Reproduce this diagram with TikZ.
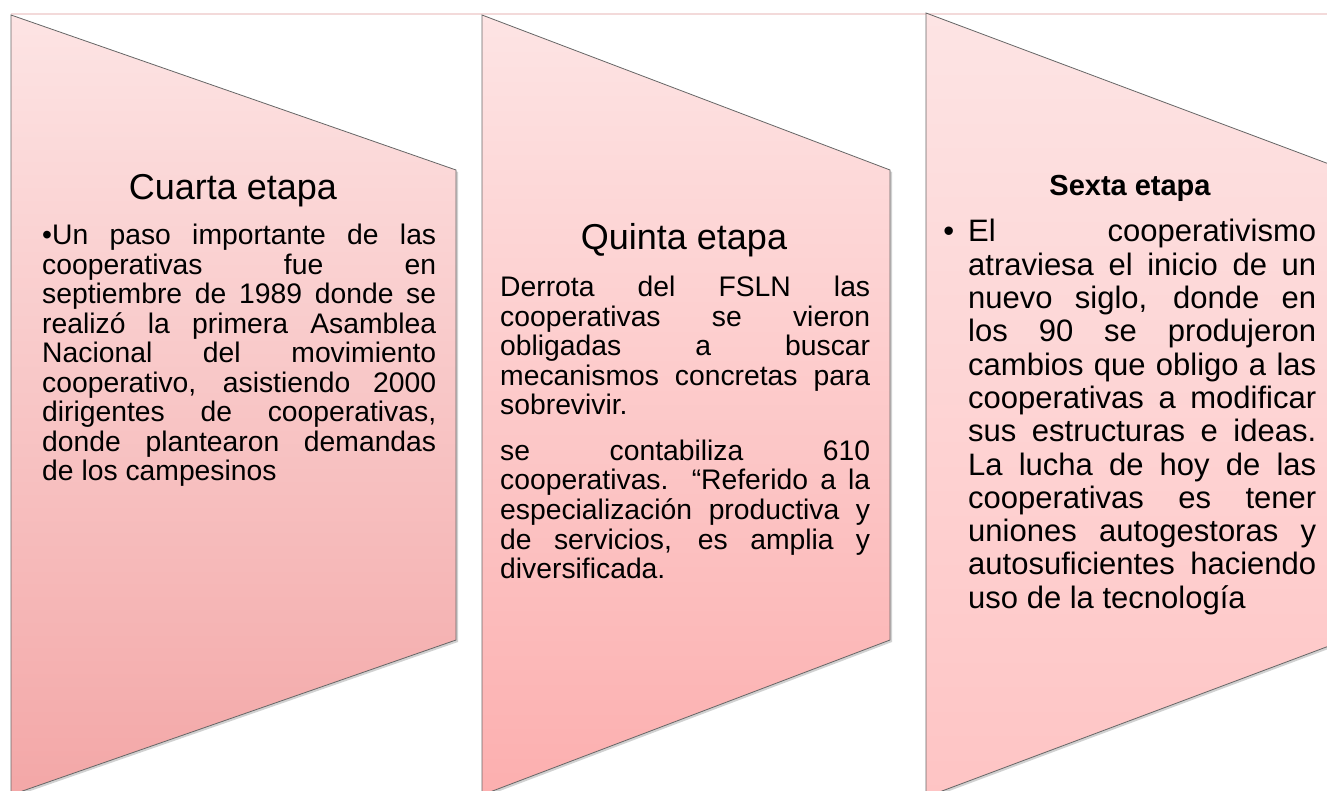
\documentclass[tikz,border=0pt]{standalone}
\usepackage{fontspec}
\newfontfamily\wf{Liberation Sans}
\definecolor{ptop}{HTML}{FDE4E4}
\definecolor{pbotA}{HTML}{F3A7A7}
\definecolor{pbotB}{HTML}{FCAFAF}
\definecolor{pbotC}{HTML}{FEC4C4}
\definecolor{frameline}{HTML}{F3DADA}
\begin{document}
\begin{tikzpicture}[x=1pt,y=-1pt,
  stage/.style={draw=black!60, line width=0.8pt},
  shadowpath/.style={fill=black, opacity=0.18},
  stagetitle/.style={anchor=base, inner sep=0pt, font=\wf\fontsize{36}{40}\selectfont},
  body/.style={anchor=base west, inner sep=0pt}
]
\useasboundingbox (0,0) rectangle (1327,791);
\fill[white] (0,0) rectangle (1327,791);
\draw[frameline, line width=1.5pt] (11,14) -- (1327,14);

% shadows
\begin{scope}[shift={(2,2)}]
\fill[shadowpath] (11,15) -- (456,170) -- (456,640) -- (11,795) -- cycle;
\fill[shadowpath] (482,15) -- (890,170) -- (890,640) -- (482,795) -- cycle;
\fill[shadowpath] (926,13) -- (1345,170) -- (1345,640) -- (926,797) -- cycle;
\end{scope}

% stage shapes
\path[stage, top color=ptop, bottom color=pbotA] (11,15) -- (456,170) -- (456,640) -- (11,795) -- cycle;
\path[stage, top color=ptop, bottom color=pbotB] (482,15) -- (890,170) -- (890,640) -- (482,795) -- cycle;
\path[stage, top color=ptop, bottom color=pbotC] (926,13) -- (1345,170) -- (1345,640) -- (926,797) -- cycle;

% stage 1
\node[stagetitle] (h1) at (233,200) {Cuarta etapa};
\node[body] (b1) at (42,245) {\parbox[t]{394pt}{\wf\fontsize{28.3}{29.5}\selectfont\hbadness=10000
•Un paso importante de las\linebreak
cooperativas fue en\linebreak
septiembre de 1989 donde se\linebreak
realizó la primera Asamblea\linebreak
Nacional del movimiento\linebreak
cooperativo, asistiendo 2000\linebreak
dirigentes de cooperativas,\linebreak
donde plantearon demandas\linebreak
de los campesinos}};

% stage 2
\node[stagetitle] (h2) at (684,250) {Quinta etapa};
\node[body] (b2) at (500,297) {\parbox[t]{370pt}{\wf\fontsize{28.3}{29.5}\selectfont\hbadness=10000
Derrota del FSLN las\linebreak
cooperativas se vieron\linebreak
obligadas a buscar\linebreak
mecanismos concretas para\linebreak
sobrevivir.\par\vspace{16pt}
se contabiliza 610\linebreak
cooperativas. “Referido a la\linebreak
especialización productiva y\linebreak
de servicios, es amplia y\linebreak
diversificada.}};

% stage 3
\node[anchor=base, inner sep=0pt, font=\wf\bfseries\fontsize{29}{32}\selectfont] (h3) at (1130,196) {Sexta etapa};
\node[body] (b3) at (968,242) {\parbox[t]{348pt}{\wf\fontsize{31}{33.3}\selectfont\hbadness=10000
\leavevmode\llap{•\kern14pt}El cooperativismo\linebreak
atraviesa el inicio de un\linebreak
nuevo siglo, donde en\linebreak
los 90 se produjeron\linebreak
cambios que obligo a las\linebreak
cooperativas a modificar\linebreak
sus estructuras e ideas.\linebreak
La lucha de hoy de las\linebreak
cooperativas es tener\linebreak
uniones autogestoras y\linebreak
autosuficientes haciendo\linebreak
uso de la tecnología}};
\end{tikzpicture}
\end{document}
